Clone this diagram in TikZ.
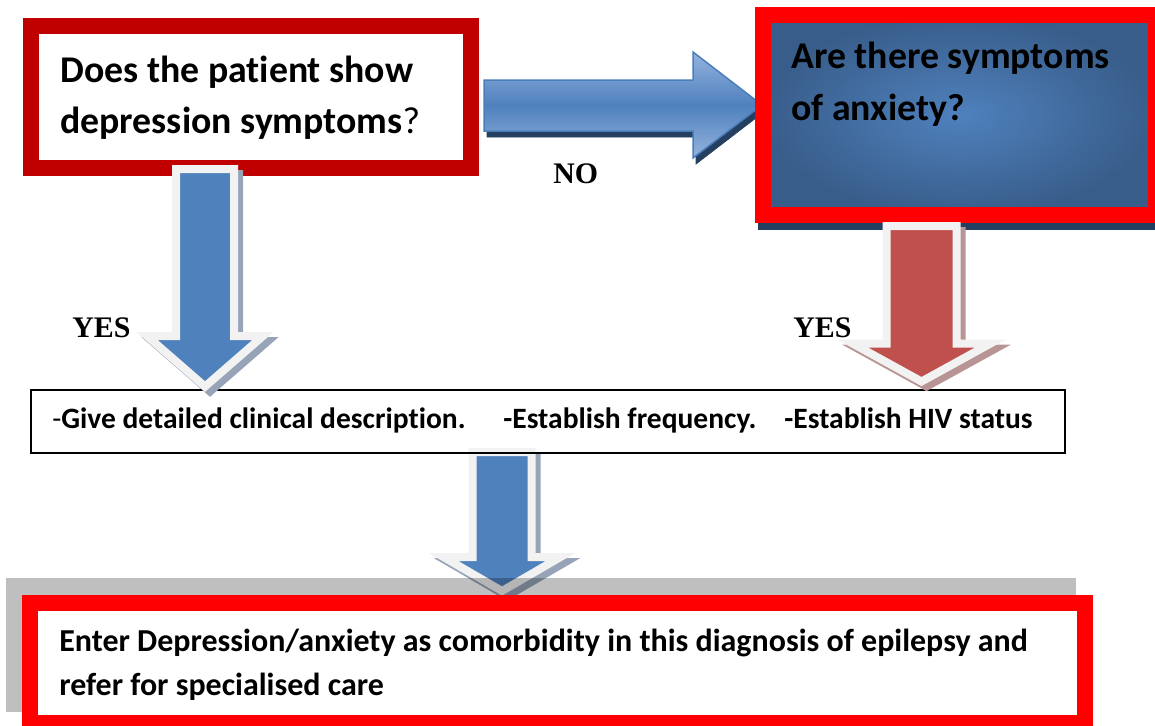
\documentclass[tikz,border=0pt]{standalone}
\usepackage{fontspec}
\setmainfont{Carlito}[Ligatures=NoCommon]
\newfontfamily\timesfont{Liberation Serif}

\definecolor{darkred}{HTML}{C00000}
\definecolor{brightred}{HTML}{FF0000}
\definecolor{arrowblue}{HTML}{4F81BD}
\definecolor{arrowlight}{HTML}{95B3DE}
\definecolor{arrowedge}{HTML}{4A7EBB}
\definecolor{arrowrim}{HTML}{F2F2F2}
\definecolor{arrowred}{HTML}{C0504D}
\definecolor{blueshadow}{HTML}{97A4B8}
\definecolor{redshadow}{HTML}{B89494}
\definecolor{navy}{HTML}{243F60}
\definecolor{boxdeep}{HTML}{385D8A}

% block arrow pointing down: centre x, top, head, tip, shaft half, head half, fill, shadow
\newcommand\blockdown[8]{%
  \filldraw[#8, line width=0.16cm, shift={(5,5)}]
    (#1-#5,#2) -- (#1+#5,#2) -- (#1+#5,#3) -- (#1+#6,#3) -- (#1,#4)
    -- (#1-#6,#3) -- (#1-#5,#3) -- cycle;
  \filldraw[draw=arrowrim, fill=#7, line width=0.16cm]
    (#1-#5,#2) -- (#1+#5,#2) -- (#1+#5,#3) -- (#1+#6,#3) -- (#1,#4)
    -- (#1-#6,#3) -- (#1-#5,#3) -- cycle;
}

\tikzset{
  frame/.style={draw=#1, line width=0.32cm, inner sep=0pt},
  qtext/.style={anchor=base west, inner sep=0pt, align=left,
    font=\fontsize{21.5}{29}\selectfont\bfseries},
  steptext/.style={anchor=base west, inner sep=0pt,
    font=\fontsize{16.8}{20}\selectfont\bfseries},
  answer/.style={anchor=base west, inner sep=0pt,
    font=\timesfont\fontsize{17}{20}\selectfont\bfseries}
}

\begin{document}
\begin{tikzpicture}[x=0.02cm, y=-0.02cm]
    \useasboundingbox (0,0) rectangle (1155,725);

    % Bottom box with its grey shade
    \blockdown{502}{452}{557}{591}{29.5}{58.5}{arrowblue}{blueshadow}
    \fill[black, opacity=0.25] (6,578) rectangle (1076,712);
    \node[frame=brightred, fill=white, minimum width=21.1cm, minimum height=2.4cm] (refer) at (557.5,663) {};

    % Middle box
    \node[draw=black, line width=0.04cm, inner sep=0pt, minimum width=20.68cm, minimum height=1.26cm] (steps) at (548,421.5) {};

    % Question boxes
    \node[frame=darkred, fill=white, minimum width=8.8cm, minimum height=2.84cm] (depr) at (251,97) {};
    \filldraw[navy, shift={(3,6)}] (484,80) -- (693,80) -- (693,52) -- (762,105) -- (693,158) -- (693,131) -- (484,131) -- cycle;
    \shadedraw[draw=arrowedge, line width=0.03cm, top color=arrowlight, bottom color=arrowlight, middle color=arrowblue]
        (484,80) -- (693,80) -- (693,52) -- (762,105) -- (693,158) -- (693,131) -- (484,131) -- cycle;
    \fill[navy] (758,14) rectangle (1167,230);
    \node[frame=brightred, inner color=arrowblue, outer color=boxdeep, minimum width=7.86cm, minimum height=4cm] (anx) at (959.5,115) {};

    % YES arrows
    \blockdown{205}{169}{336}{386.5}{29}{58}{arrowblue}{blueshadow}
    \blockdown{921.5}{226}{343.5}{381.5}{35}{69}{arrowred}{redshadow}

    % Texts (base anchor sits on the last line)
    \node[qtext] (deprtxt) at (60,133) {Does the patient show\\depression symptoms{\mdseries ?}};
    \node[qtext] (anxtxt) at (791,120) {Are there symptoms\\[0.6pt]of anxiety?};
    \node[answer] (no) at (553,183) {NO};
    \node[answer] (yesl) at (72,337) {YES};
    \node[answer] (yesr) at (793,337) {YES};
    \node[steptext] (clin) at (52,428) {{\mdseries -}Give detailed clinical description.};
    \node[steptext] (freq) at (503,428) {-Establish frequency.};
    \node[steptext] (hiv) at (784,428) {-Establish HIV status};
    \node[qtext, font=\fontsize{18.2}{24.5}\selectfont\bfseries] (refertxt) at (59,695)
        {Enter Depression/anxiety as comorbidity in this diagnosis of epilepsy and\\refer for specialised care};
\end{tikzpicture}
\end{document}
